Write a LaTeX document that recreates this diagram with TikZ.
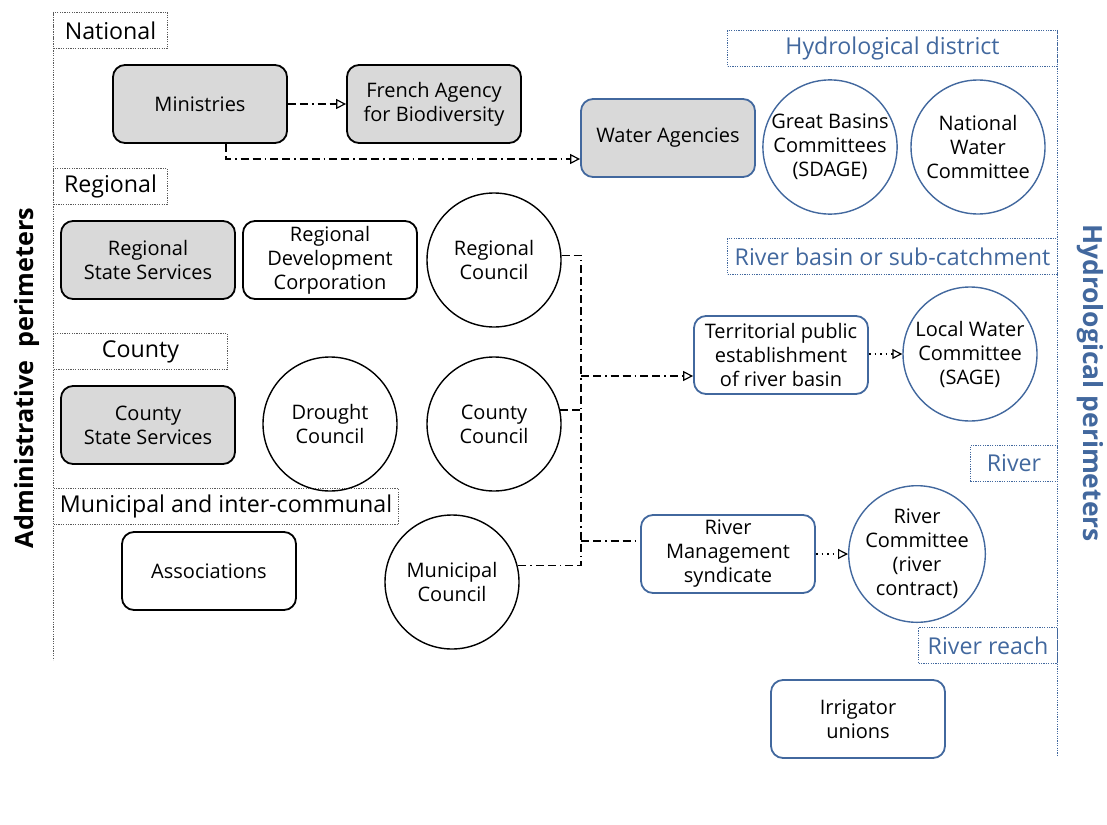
\documentclass[tikz,border=0pt]{standalone}
\usepackage{fontspec}
\setmainfont{Open Sans}
\usetikzlibrary{arrows.meta}
\definecolor{hydroblue}{RGB}{66,104,158}
\definecolor{stategray}{RGB}{217,217,217}
\definecolor{frame}{RGB}{90,90,90}

\begin{document}
\begin{tikzpicture}[x=0.5pt,y=-0.5pt,
  box/.style={draw, rounded corners=6pt, line width=0.9pt, minimum width=87pt,
    minimum height=39pt, align=center, inner sep=1pt, font=\fontsize{10}{12}\selectfont},
  graybox/.style={box, fill=stategray},
  bluebox/.style={box, draw=hydroblue},
  org/.style={draw, circle, line width=0.7pt, minimum size=67pt, inner sep=0pt,
    align=center, font=\fontsize{10}{12}\selectfont},
  blueorg/.style={org, draw=hydroblue},
  level/.style={draw=frame, line width=0.5pt, dash pattern=on 0.6pt off 0.6pt,
    anchor=north west, minimum height=18pt, inner sep=0pt, font=\fontsize{11.6}{14}\selectfont},
  hlevel/.style={level, draw=hydroblue, text=hydroblue},
  link/.style={line width=0.6pt, dash pattern=on 4pt off 2pt on 4pt off 2pt on 0.8pt off 2pt},
  dotlink/.style={line width=0.6pt, dash pattern=on 0.8pt off 2pt},
  tip/.style={-{Triangle[open, length=5pt, width=5pt]}},
  ]
\useasboundingbox (0,0) rectangle (1107,824);

% administrative levels
\draw[level] (53,12) -- (53,660);
\node[level, minimum width=57pt] (nat) at (53,12) {National};
\node[level, minimum width=57pt] (reg) at (53,168) {Regional};
\node[level, minimum width=87pt] (cty) at (53,333) {County};
\node[level, minimum width=172.5pt] (mun) at (53,488) {Municipal and inter-communal};
\node[rotate=90, font=\bfseries\fontsize{12.6}{14}\selectfont] (adm) at (27,378) {Administrative\ \ perimeters};

% hydrological levels
\draw[hlevel] (1057,30) -- (1057,755);
\node[hlevel, minimum width=165pt] (hdi) at (727,30) {Hydrological district};
\node[hlevel, minimum width=165pt] (rbs) at (727,238) {River basin or sub-catchment};
\node[hlevel, minimum width=43.5pt] (riv) at (970,445) {River};
\node[hlevel, minimum width=69.5pt] (rre) at (918,627) {River reach};
\node[rotate=-90, text=hydroblue, font=\bfseries\fontsize{13.2}{15}\selectfont] (hyd) at (1090,383) {Hydrological perimeters};

% national
\node[graybox] (min) at (200,104) {Ministries};
\node[graybox] (fab) at (434,104) {French Agency\\for Biodiversity};
\node[graybox, draw=hydroblue] (wag) at (668,138) {Water Agencies};
\node[blueorg] (gbc) at (830,147) {Great Basins\\Committees\\(SDAGE)};
\node[blueorg] (nwc) at (978,147) {National\\Water\\Committee};

% regional
\node[graybox] (rss) at (148,260) {Regional\\State Services};
\node[box] (rdc) at (330,260) {Regional\\Development\\Corporation};
\node[org] (regc) at (494,260) {Regional\\Council};

% county
\node[graybox] (css) at (148,425) {County\\State Services};
\node[org] (drc) at (330,424) {Drought\\Council};
\node[org] (couc) at (494,424) {County\\Council};

% municipal
\node[box] (ass) at (209,571) {Associations};
\node[org] (munc) at (452,582) {Municipal\\Council};

% basin and river
\node[bluebox] (tpe) at (781,355) {Territorial public\\establishment\\of river basin};
\node[blueorg] (lwc) at (970,354) {Local Water\\Committee\\(SAGE)};
\node[bluebox] (rms) at (728,554) {River\\Management\\syndicate};
\node[blueorg] (rvc) at (917,554) {River\\Committee\\(river\\contract)};
\node[bluebox] (iru) at (858,719) {Irrigator\\unions};

% links
\coordinate (jmin) at (226,159);
\coordinate (trunk) at (581,0);
\coordinate (jtpe) at (581,376);
\coordinate (jrms) at (581,541);
\draw[link, tip] (min) -- (fab);
\draw[link, tip] (min.south -| jmin) -- (jmin) -- (jmin -| wag.west);
\draw[link] (regc.4) -- (regc.4 -| trunk) -- (munc.14 -| trunk) -- (munc.14);
\draw[link] (couc.12) -- (couc.12 -| trunk);
\draw[link, tip] (jtpe) -- (jtpe -| tpe.west);
\draw[link] (jrms) -- (jrms -| rms.west);
\draw[dotlink, tip] (tpe.east |- lwc.west) -- (lwc.west);
\draw[dotlink, tip] (rms.east |- rvc.west) -- (rvc.west);
\end{tikzpicture}
\end{document}
